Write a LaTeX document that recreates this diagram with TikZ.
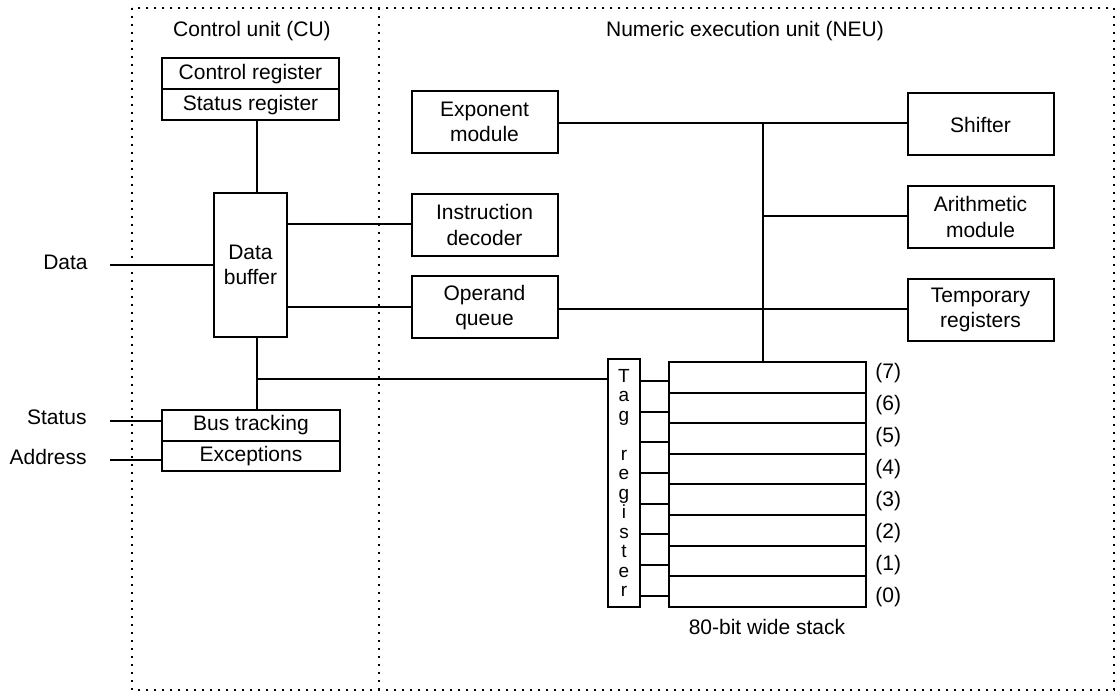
\documentclass[tikz,border=0pt]{standalone}
\usepackage{fontspec}
\setmainfont{Liberation Sans}
\usetikzlibrary{positioning,calc}

\begin{document}
\begin{tikzpicture}[x=1pt, y=-1pt, line width=2pt,
    font=\fontsize{21}{25.5}\selectfont,
    unit/.style={draw, line width=2pt, minimum width=146pt, minimum height=62pt, inner sep=0pt, align=center},
    reg/.style={draw, line width=2pt, minimum width=177pt, minimum height=31pt, inner sep=0pt, outer sep=0pt},
    row/.style={draw, line width=2pt, minimum width=197pt, minimum height=30.6pt, inner sep=0pt, outer sep=0pt},
    frame/.style={line width=2pt, dash pattern=on 2pt off 6pt}]

    \useasboundingbox (0,0) rectangle (1117,692);

    % unit frames
    \draw[frame] (132,8) rectangle (1114,690);
    \draw[frame] (379,8) -- (379,690);
    \node (cutitle) at (252,31) {Control unit (CU)};
    \node (neutitle) at (745,31) {Numeric execution unit (NEU)};

    % control unit
    \node[reg] (ctrl) at (250.5,74) {Control register};
    \node[reg, below=0pt of ctrl] (status) {Status register};
    \node[draw, minimum width=73pt, minimum height=144pt, inner sep=0pt, align=center] (databuf) at (250.5,265) {Data\\buffer};
    \node[reg, minimum width=178pt] (bustrack) at (251,425.5) {Bus tracking};
    \node[reg, minimum width=178pt, minimum height=30pt, below=0pt of bustrack] (exc) {Exceptions};

    % numeric execution unit
    \node[unit] (expo) at (484.5,122) {Exponent\\module};
    \node[unit] (instr) at (484.5,225) {Instruction\\decoder};
    \node[unit] (operand) at (484.5,307.5) {Operand\\queue};
    \node[unit] (shifter) at (980.5,124.5) {Shifter};
    \node[unit] (arith) at (980.5,217) {Arithmetic\\module};
    \node[unit] (temp) at (980.5,310) {Temporary\\registers};

    % tag register and stack
    \node[draw, minimum width=32pt, minimum height=248pt, inner sep=0pt, outer sep=0pt, align=center,
          font=\fontsize{19}{19.5}\selectfont] (tag) at (624,483)
          {T\\a\\g\\ \\r\\e\\g\\i\\s\\t\\e\\r};
    \node[row] (row7) at (767.5,377.3) {};
    \foreach \i [remember=\i as \prev (initially 7)] in {6,...,0}
        \node[row, below=0pt of row\prev] (row\i) {};
    \foreach \i in {7,...,0} {
        \pgfmathsetmacro\ly{373+32*(7-\i)}
        \node[anchor=west, xshift=5pt] (lbl\i) at (row7.east |- 0,\ly) {(\i)};
        \coordinate (tap\i) at ($(row\i.west)+(0,4)$);
        \draw (tap\i) -- (tap\i -| tag.east);
    }
    \node (stacklbl) at (767,627) {80-bit wide stack};

    % external signals
    \node[anchor=east] (datalbl) at (92,262) {Data};
    \node[anchor=east] (statuslbl) at (91,417) {Status};
    \node[anchor=east] (addrlbl) at (91,457) {Address};
    \coordinate (datain) at (110,265);
    \coordinate (statusin) at (110,421);
    \coordinate (addrin) at (110,460);
    \draw (datain) -- (datain -| databuf.west);
    \draw (statusin) -- (statusin -| bustrack.west);
    \draw (addrin) -- (addrin -| exc.west);

    % data buffer links
    \coordinate (cux) at (257,379);
    \draw (status.south -| cux) -- (databuf.north -| cux);
    \draw (databuf.south -| cux) -- (bustrack.north -| cux);
    \draw (databuf.east |- 0,224) -- (instr.west |- 0,224);
    \draw (databuf.east |- 0,307) -- (operand.west |- 0,307);
    \draw (cux) -- (cux -| tag.west);

    % internal bus
    \coordinate (bustop) at (763,123);
    \draw (expo.east |- bustop) -- (shifter.west |- bustop);
    \draw (bustop) -- (bustop |- row7.north);
    \draw (bustop |- 0,216) -- (arith.west |- 0,216);
    \draw (operand.east |- 0,309) -- (temp.west |- 0,309);
\end{tikzpicture}
\end{document}
